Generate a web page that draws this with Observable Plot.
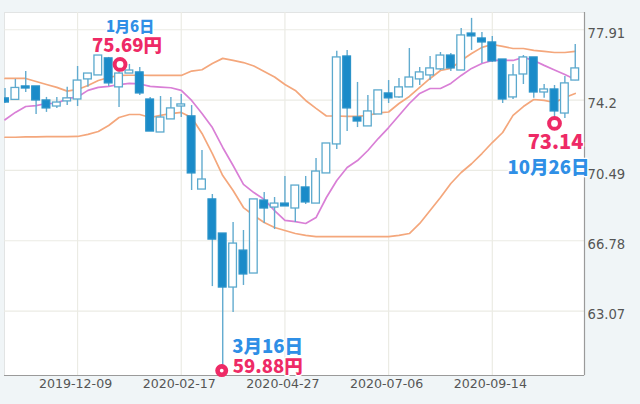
<!DOCTYPE html>
<html><head><meta charset="utf-8">
<script src="https://cdn.jsdelivr.net/npm/d3@7"></script>
<script src="https://cdn.jsdelivr.net/npm/@observablehq/plot@0.6"></script>
<style>html,body{margin:0;padding:0;background:#f0f5f7}svg{display:block}</style>
</head><body><div id="chart"></div>
<script>
const firstWeek = "2019-10-21";
const open  = [74.29,74.21,74.92,74.92,74.18,73.86,74.13,74.23,75.29,75.50,76.40,74.87,75.60,75.66,74.23,72.49,73.18,73.86,73.34,69.48,68.96,67.16,64.31,66.26,65.05,68.90,68.53,68.74,68.48,69.59,68.74,70.33,71.86,76.50,73.28,72.81,73.44,74.55,74.34,74.87,75.29,75.50,75.82,76.55,75.76,77.71,77.45,77.24,76.34,74.34,75.55,76.45,74.60,74.76,73.49,75.23];
const close = [74.07,74.84,74.81,74.18,73.76,74.07,74.29,75.23,75.60,76.55,75.08,75.60,75.76,74.55,72.54,73.28,73.76,73.97,70.33,70.01,66.84,64.31,66.63,65.00,68.96,68.48,68.74,68.59,69.69,68.80,70.43,71.91,76.45,73.76,73.07,73.60,74.71,74.29,74.87,75.39,75.66,75.87,76.55,75.87,77.61,77.56,77.24,76.24,74.23,75.50,76.45,74.60,74.76,73.60,75.08,75.87];
const high  = [74.81,75.29,75.71,74.92,74.34,74.34,74.87,75.97,75.60,76.55,76.45,75.69,76.08,75.92,74.34,74.39,74.34,74.50,73.91,71.54,69.22,67.16,67.74,67.32,68.96,69.32,69.06,70.17,69.69,70.17,71.12,71.91,76.77,76.82,75.13,74.44,74.71,75.23,75.34,76.92,75.92,76.50,76.71,76.66,77.98,78.51,77.77,77.56,76.34,76.08,76.55,76.45,75.02,74.97,75.45,77.13];
const low   = [74.02,74.18,74.60,73.44,73.55,73.76,73.91,73.86,74.87,75.50,74.92,73.81,75.60,74.44,72.54,72.49,73.18,73.28,69.43,69.48,64.36,59.88,62.99,64.42,65.05,67.69,67.37,68.59,67.74,68.69,68.74,70.33,71.59,72.54,72.75,72.81,73.44,74.02,74.29,74.87,74.97,75.23,75.76,75.71,75.76,76.82,76.13,76.18,74.02,74.23,75.02,74.29,74.29,73.14,73.23,75.23];
const upperBand = [75.34,75.34,75.34,75.18,75.02,74.87,74.67,74.76,74.97,75.23,75.39,75.50,75.51,75.51,75.50,75.50,75.50,75.50,75.73,75.80,76.13,76.40,76.29,76.18,76.00,75.71,75.42,75.02,74.71,74.18,73.76,73.36,73.36,73.34,73.34,73.39,73.52,73.57,74.02,74.39,74.87,75.34,75.76,75.87,76.29,76.66,76.98,77.13,77.03,76.92,76.92,76.82,76.77,76.71,76.71,76.77];
const middleAvg = [73.16,73.55,73.86,73.91,74.02,74.02,74.29,74.36,74.71,74.87,74.92,75.02,75.08,75.05,74.92,74.88,74.85,74.71,74.18,73.49,72.75,71.70,70.75,69.75,69.32,68.96,68.37,67.85,67.79,67.69,68.00,69.06,69.96,70.64,71.01,71.54,72.17,72.75,73.39,74.02,74.55,74.81,74.81,75.08,75.50,75.87,76.13,76.29,76.29,76.29,76.45,76.29,76.03,75.79,75.55,75.29];
const lowerBand = [72.24,72.24,72.26,72.26,72.27,72.27,72.27,72.28,72.39,72.54,72.86,73.28,73.44,73.44,73.28,73.39,73.49,73.55,73.28,72.44,71.38,70.22,69.43,68.53,68.11,67.74,67.48,67.32,67.16,67.06,67.00,67.00,67.00,67.00,67.00,67.00,67.00,67.00,67.06,67.16,67.69,68.37,69.06,69.80,70.38,70.84,71.38,71.96,72.49,73.39,73.86,74.23,74.18,74.07,74.34,74.55];
const yTicks = [63.07,66.78,70.49,74.2,77.91];
const xTicks = ["2019-12-09","2020-02-17","2020-04-27","2020-07-06","2020-09-14"].map(d=>new Date(d));
const markerDates = ["2020-01-06","2020-03-16","2020-10-26"].map(d=>new Date(d));
const markerPrices = [76.08,59.93,72.97];
const markerRadii = [5.4,4.2,5.4];
const markerWidths = [4,4.6,4];
const markerOffsets = [1,-1,0];
const noteDates = ["2020-01-06","2020-01-06","2020-03-16","2020-03-16","2020-10-26","2020-10-26"].map(d=>new Date(d));
const noteTexts = ["1月6日","75.69円","3月16日","59.88円","73.14","10月26日"];
const notePrices = [78.03,77.03,61.15,60.09,71.96,70.59];
const noteOffsets = [11,8,45,45,1,-6];
const noteSizes = [15,18.5,18.5,18.5,20,18.5];
const noteColors = ["#2f8fe6","#ee2a66","#2f8fe6","#ee2a66","#ee2a66","#2f8fe6"];

const DAY = 864e5, start = new Date(firstWeek);
const rows = open.map((o,i)=>({date:new Date(+start+i*7*DAY),o,c:close[i],h:high[i],l:low[i],up:upperBand[i],mid:middleAvg[i],lo:lowerBand[i],rise:close[i]>=o}));
const notes = noteTexts.map((t,i)=>({t,date:noteDates[i],p:notePrices[i],dx:noteOffsets[i],size:noteSizes[i],color:noteColors[i]}));
const markers = markerDates.map((d,i)=>({d,p:markerPrices[i],r:markerRadii[i],w:markerWidths[i],dx:markerOffsets[i]}));
const xDomain = [new Date("2019-10-20T16:00Z"), new Date("2020-11-15T06:00Z")];
const yDomain = [59.67,78.82];
const halfBody = 2.6*DAY;
const lineOpt = {x:"date",strokeWidth:1.7,clip:true};
const fig = Plot.plot({
  width:640,height:404,marginLeft:4,marginRight:56,marginTop:12,marginBottom:29,
  style:{background:"#f0f5f7",fontFamily:"'DejaVu Sans',sans-serif"},
  x:{type:"utc",domain:xDomain},
  y:{domain:yDomain},
  marks:[
    Plot.frame({fill:"white",stroke:"#e2e4e4"}),
    Plot.ruleX(xTicks,{stroke:"#ebebe4",strokeWidth:1.2}),
    Plot.ruleY(yTicks,{stroke:"#ebebe4",strokeWidth:1.2}),
    Plot.ruleY([yDomain[0]],{stroke:"#9a9a9a",strokeWidth:1.2}),
    Plot.ruleX([xDomain[1]],{stroke:"#9a9a9a",strokeWidth:1.2}),
    Plot.axisX({ticks:xTicks,tickFormat:d3.utcFormat("%Y-%m-%d"),tickSize:0,tickPadding:4,dx:-2,fontSize:12.6,fill:"#555",label:null}),
    Plot.axisY({anchor:"right",ticks:yTicks,tickFormat:d=>String(d),tickSize:0,tickPadding:3,dy:4,fontSize:13.2,fill:"#555",label:null}),
    Plot.line(rows,{...lineOpt,y:"up",stroke:"#f4a77c"}),
    Plot.line(rows,{...lineOpt,y:"lo",stroke:"#f4a77c"}),
    Plot.line(rows,{...lineOpt,y:"mid",stroke:"#d97fd6"}),
    Plot.ruleX(rows,{x:"date",y1:"l",y2:"h",stroke:"#62abcf",strokeWidth:1.4,clip:true}),
    Plot.rect(rows,{x1:d=>new Date(+d.date-halfBody),x2:d=>new Date(+d.date+halfBody),
      y1:"o",y2:"c",fill:d=>d.rise?"white":"#1a8bc9",stroke:d=>d.rise?"#5ba9cd":"#2b93c9",strokeWidth:1.3,clip:true}),
    ...markers.map(m=>Plot.dot([m],{x:"d",y:"p",dx:m.dx,r:m.r,fill:"white",stroke:"#ee2a66",strokeWidth:m.w})),
    ...notes.map(n=>Plot.text([n],{x:"date",y:"p",text:"t",dx:n.dx,fontSize:n.size,fontWeight:900,
      fontFamily:"'Noto Sans CJK JP',sans-serif",fill:n.color,stroke:"white",strokeWidth:2.5,textAnchor:"middle",lineAnchor:"middle"}))
  ]
});
document.getElementById("chart").append(fig);
</script>
</body></html>
